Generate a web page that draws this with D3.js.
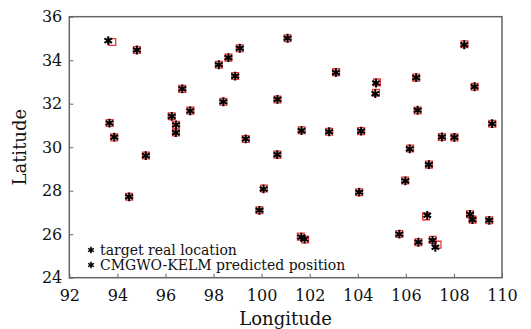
<!DOCTYPE html>
<html lang="en">
<head>
<meta charset="utf-8">
<title>Location scatter</title>
<script src="https://cdn.jsdelivr.net/npm/d3@7"></script>
<style>
  body { margin: 0; background: #fff; }
  text { font-family: "DejaVu Serif", serif; fill: #111; }
</style>
</head>
<body>
<script>
var w = 531, h = 329;
var margin = {top: 16.7, right: 29, bottom: 51.3, left: 69.3};

// real positions
var realLon = [93.62, 94.81, 96.70, 97.03, 96.26, 96.44, 96.43, 93.67, 93.87, 101.08,
               99.09, 98.62, 98.22, 98.90, 103.09, 98.41, 100.66, 101.66, 102.81, 99.34,
               108.43, 106.43, 104.76, 104.73, 108.86, 106.49, 109.59, 104.14, 107.50, 108.02,
               106.16, 106.96, 105.98, 104.06, 106.89, 108.67, 108.77, 109.47, 101.65, 101.79,
               105.73, 106.52, 107.11, 107.23, 95.18, 94.49, 100.08, 99.91, 100.65];
var realLat = [34.90, 34.47, 32.68, 31.67, 31.42, 31.03, 30.67, 31.11, 30.46, 35.01,
               34.55, 34.12, 33.79, 33.27, 33.43, 32.09, 32.20, 30.76, 30.71, 30.38,
               34.71, 33.20, 32.95, 32.46, 32.78, 31.70, 31.08, 30.74, 30.47, 30.45,
               29.92, 29.20, 28.45, 27.93, 26.87, 26.91, 26.67, 26.64, 25.87, 25.77,
               26.00, 25.63, 25.72, 25.40, 29.61, 27.72, 28.08, 27.10, 29.66];
// predicted positions
var predLon = [93.79, 94.81, 96.70, 97.04, 96.26, 96.44, 96.44, 93.68, 93.87, 101.08,
               99.09, 98.62, 98.22, 98.90, 103.10, 98.41, 100.66, 101.67, 102.81, 99.34,
               108.44, 106.43, 104.80, 104.76, 108.86, 106.49, 109.60, 104.14, 107.50, 108.02,
               106.18, 106.96, 105.97, 104.06, 106.84, 108.67, 108.78, 109.47, 101.63, 101.81,
               105.73, 106.52, 107.12, 107.32, 95.19, 94.49, 100.10, 99.91, 100.66];
var predLat = [34.84, 34.47, 32.68, 31.68, 31.42, 31.03, 30.68, 31.11, 30.45, 35.01,
               34.55, 34.12, 33.79, 33.27, 33.45, 32.09, 32.19, 30.78, 30.71, 30.38,
               34.73, 33.20, 32.98, 32.50, 32.78, 31.69, 31.08, 30.74, 30.47, 30.45,
               29.94, 29.20, 28.47, 27.93, 26.82, 26.92, 26.67, 26.64, 25.89, 25.76,
               26.01, 25.63, 25.74, 25.52, 29.62, 27.72, 28.10, 27.10, 29.66];

var xTicks = [92, 94, 96, 98, 100, 102, 104, 106, 108, 110];
var yTicks = [24, 26, 28, 30, 32, 34, 36];
var legendLabels = ["target real location", "CMGWO-KELM predicted position"];

var svg = d3.select("body").append("svg")
    .attr("width", w)
    .attr("height", h);

var iw = w - margin.left - margin.right,
    ih = h - margin.top - margin.bottom;

var g = svg.append("g")
    .attr("transform", "translate(" + margin.left + "," + margin.top + ")");

var x = d3.scaleLinear().domain([92, 110]).range([0, iw]);
var y = d3.scaleLinear().domain([24, 36]).range([ih, 0]);

// box
g.append("rect")
    .attr("width", iw).attr("height", ih)
    .attr("fill", "none").attr("stroke", "#666").attr("stroke-width", 1.5);

var xAxis = g.append("g")
    .attr("transform", "translate(0," + ih + ")")
    .call(d3.axisBottom(x).tickValues(xTicks).tickSize(-4).tickPadding(11).tickFormat(d3.format("d")));
var yAxis = g.append("g")
    .call(d3.axisLeft(y).tickValues(yTicks).tickSize(-4).tickPadding(7).tickFormat(d3.format("d")));

[xAxis, yAxis].forEach(function(a) {
  a.select(".domain").remove();
  a.selectAll("line").attr("stroke", "#666");
  a.selectAll("text").style("font-family", "DejaVu Serif, serif").style("font-size", "16px").attr("fill", "#111");
});
xAxis.selectAll("text").attr("dy", "0.75em");

var star = d3.symbol().type(d3.symbolAsterisk).size(54);
var square = d3.symbol().type(d3.symbolSquare).size(46);

var idx = d3.range(realLon.length);

g.append("g").selectAll("path")
    .data(idx).enter().append("path")
    .attr("d", square)
    .attr("transform", function(i) { return "translate(" + x(predLon[i]) + "," + y(predLat[i]) + ")"; })
    .attr("fill", "none").attr("stroke", "#e8383a").attr("stroke-width", 1.3);

g.append("g").selectAll("path")
    .data(idx).enter().append("path")
    .attr("d", star)
    .attr("transform", function(i) { return "translate(" + x(realLon[i]) + "," + y(realLat[i]) + ")"; })
    .attr("fill", "none").attr("stroke", "#000").attr("stroke-width", 2);

// legend
var lg = svg.append("g").attr("transform", "translate(91,250)");
legendLabels.forEach(function(t, i) {
  lg.append("path").attr("d", d3.symbol().type(d3.symbolAsterisk).size(30))
    .attr("transform", "translate(0," + (i * 15) + ")")
    .attr("fill", "none").attr("stroke", "#000").attr("stroke-width", 1.6);
  lg.append("text").attr("x", 9).attr("y", i * 15).attr("dy", "0.35em")
    .style("font-size", "14px").text(t);
});

// axis titles
svg.append("text")
    .attr("x", margin.left + iw / 2).attr("y", 325)
    .attr("text-anchor", "middle")
    .style("font-size", "18px").text("Longitude");
svg.append("text")
    .attr("transform", "translate(26," + (margin.top + ih / 2) + ") rotate(-90)")
    .attr("text-anchor", "middle")
    .style("font-size", "18px").text("Latitude");
</script>
</body>
</html>
